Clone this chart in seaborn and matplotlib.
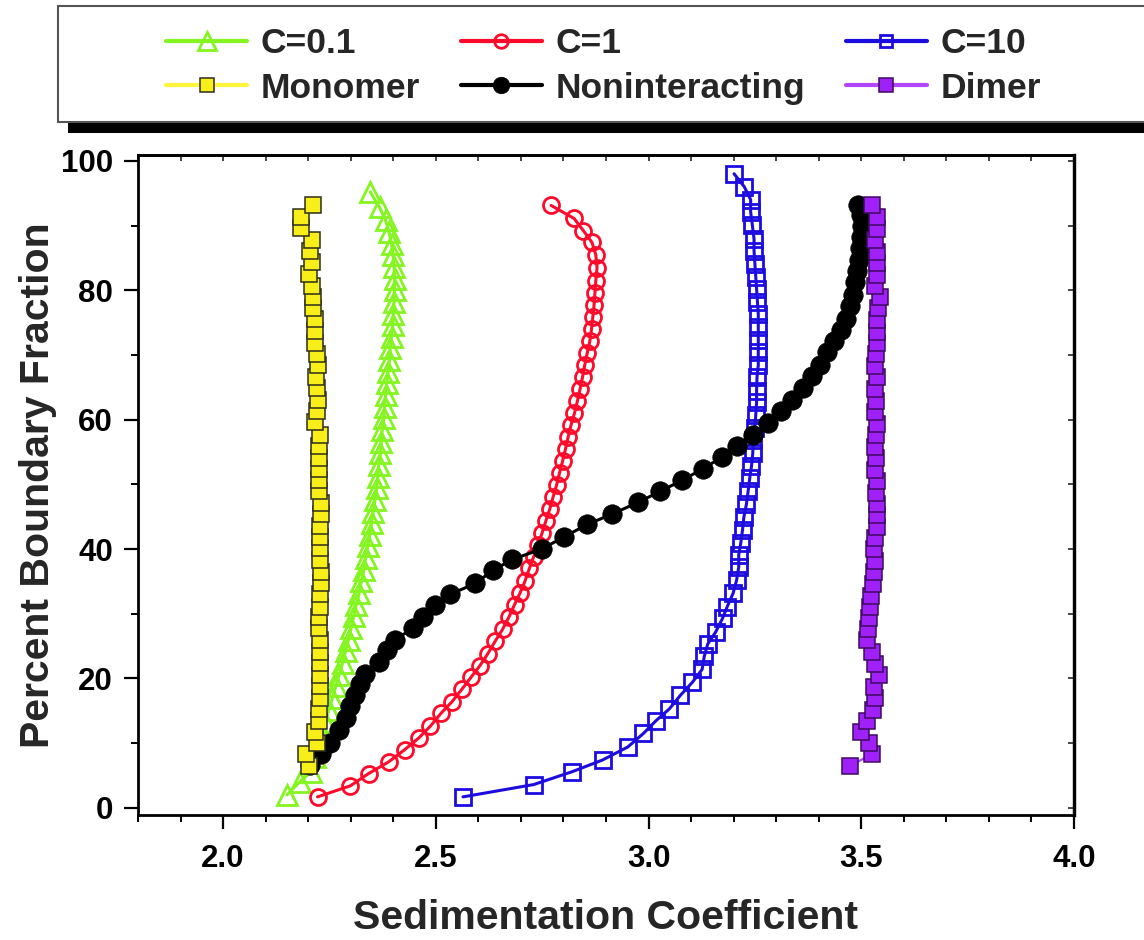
import numpy as np
import pandas as pd
import matplotlib
matplotlib.use("Agg")
import matplotlib.pyplot as plt
from matplotlib.patches import Rectangle
from matplotlib.ticker import MultipleLocator
import seaborn as sns

# Boundary fraction (%) vs. sedimentation coefficient for each model
c01_s = [2.150, 2.180, 2.207, 2.215, 2.224, 2.232, 2.240, 2.249, 2.257, 2.265,
         2.273, 2.281, 2.288, 2.295, 2.301, 2.307, 2.313, 2.320, 2.325, 2.331,
         2.335, 2.340, 2.345, 2.349, 2.353, 2.357, 2.361, 2.364, 2.366, 2.370,
         2.372, 2.374, 2.378, 2.380, 2.382, 2.385, 2.388, 2.391, 2.393, 2.396,
         2.399, 2.400, 2.402, 2.403, 2.403, 2.402, 2.400, 2.396, 2.390, 2.382,
         2.368, 2.346]
c01_f = [2.0, 4.0, 5.6, 7.9, 9.7, 11.5, 13.3, 15.2, 17.0, 18.8,
         20.6, 22.4, 24.2, 26.0, 27.8, 29.6, 31.4, 33.2, 35.0, 36.8,
         38.6, 40.4, 42.2, 44.0, 45.8, 47.6, 49.4, 51.2, 53.0, 54.8,
         56.6, 58.4, 60.2, 62.0, 63.8, 65.6, 67.4, 69.2, 71.0, 72.8,
         74.6, 76.4, 78.2, 80.0, 81.8, 83.6, 85.4, 87.2, 89.0, 90.8,
         92.8, 95.2]

c1_s = [2.222, 2.299, 2.342, 2.389, 2.427, 2.460, 2.487, 2.512, 2.538, 2.561,
        2.583, 2.604, 2.622, 2.640, 2.657, 2.672, 2.685, 2.698, 2.710, 2.720,
        2.730, 2.740, 2.750, 2.759, 2.768, 2.776, 2.784, 2.791, 2.798, 2.805,
        2.811, 2.818, 2.826, 2.833, 2.839, 2.845, 2.850, 2.856, 2.862, 2.866,
        2.869, 2.872, 2.874, 2.876, 2.879, 2.876, 2.867, 2.847, 2.825, 2.771]
c1_f = [1.7, 3.4, 5.3, 7.1, 9.0, 10.8, 12.6, 14.6, 16.4, 18.3,
        20.2, 22.0, 23.8, 25.8, 27.6, 29.5, 31.4, 33.2, 35.1, 37.0,
        38.8, 40.7, 42.5, 44.4, 46.2, 48.1, 49.9, 51.8, 53.6, 55.5,
        57.3, 59.2, 61.0, 62.9, 64.7, 66.6, 68.4, 70.3, 72.1, 74.0,
        75.8, 77.7, 79.5, 81.4, 83.5, 85.5, 87.4, 89.2, 91.1, 93.1]

c10_s = [2.564, 2.730, 2.821, 2.892, 2.951, 2.988, 3.018, 3.049, 3.075, 3.103,
         3.126, 3.131, 3.139, 3.158, 3.174, 3.185, 3.199, 3.207, 3.212, 3.212,
         3.217, 3.221, 3.224, 3.230, 3.234, 3.238, 3.242, 3.245, 3.246, 3.250,
         3.252, 3.254, 3.254, 3.255, 3.258, 3.258, 3.258, 3.258, 3.258, 3.256,
         3.254, 3.252, 3.250, 3.248, 3.248, 3.244, 3.240, 3.240, 3.225, 3.201]
c10_f = [1.7, 3.6, 5.6, 7.4, 9.4, 11.5, 13.5, 15.3, 17.4, 19.4,
         21.4, 23.4, 25.3, 27.2, 29.3, 31.1, 33.2, 35.2, 37.2, 39.1,
         41.0, 43.0, 44.9, 46.9, 48.9, 51.0, 52.8, 54.8, 56.8, 58.7,
         60.7, 62.7, 64.5, 66.6, 68.4, 70.5, 72.3, 74.3, 76.3, 78.2,
         80.2, 82.1, 84.1, 86.1, 87.9, 90.1, 92.1, 94.0, 96.0, 98.0]

nonint_s = [2.205, 2.230, 2.252, 2.272, 2.288, 2.299, 2.311, 2.323, 2.333, 2.366,
            2.385, 2.403, 2.446, 2.471, 2.499, 2.534, 2.593, 2.634, 2.680, 2.749,
            2.802, 2.856, 2.914, 2.975, 3.027, 3.078, 3.128, 3.172, 3.208, 3.246,
            3.280, 3.312, 3.338, 3.362, 3.385, 3.404, 3.420, 3.437, 3.452, 3.465,
            3.473, 3.481, 3.485, 3.490, 3.495, 3.498, 3.500, 3.502, 3.500, 3.493]
nonint_f = [6.6, 8.3, 10.1, 12.0, 13.9, 15.7, 17.4, 19.2, 20.7, 22.6,
            24.4, 25.9, 27.8, 29.5, 31.3, 33.0, 34.7, 36.7, 38.4, 40.0,
            41.9, 43.8, 45.4, 47.2, 48.9, 50.6, 52.4, 54.2, 55.9, 57.7,
            59.5, 61.3, 63.1, 64.9, 66.8, 68.5, 70.4, 72.1, 73.9, 75.6,
            77.5, 79.3, 81.2, 82.9, 84.7, 86.6, 88.3, 89.9, 91.6, 93.1]

mono_s = [2.202, 2.196, 2.221, 2.216, 2.225, 2.225, 2.227, 2.227, 2.227, 2.227,
          2.229, 2.227, 2.225, 2.225, 2.227, 2.229, 2.230, 2.230, 2.229, 2.229,
          2.227, 2.229, 2.230, 2.230, 2.225, 2.225, 2.225, 2.225, 2.225, 2.227,
          2.217, 2.221, 2.223, 2.221, 2.219, 2.223, 2.221, 2.216, 2.217, 2.216,
          2.212, 2.211, 2.209, 2.202, 2.208, 2.204, 2.208, 2.183, 2.183, 2.211]
mono_f = [6.5, 8.3, 10.0, 11.8, 13.5, 15.3, 17.0, 18.8, 20.6, 22.4,
          24.1, 26.0, 27.8, 29.5, 31.1, 33.0, 34.7, 36.5, 38.3, 40.1,
          41.9, 43.6, 45.4, 47.1, 48.9, 50.6, 52.4, 54.1, 56.0, 57.7,
          59.6, 61.4, 63.1, 64.9, 66.6, 68.4, 70.1, 71.9, 73.7, 75.5,
          77.2, 79.0, 80.7, 82.5, 84.4, 86.0, 87.8, 89.6, 91.3, 93.1]

dimer_s = [3.473, 3.526, 3.518, 3.500, 3.514, 3.528, 3.532, 3.529, 3.541, 3.533,
           3.526, 3.514, 3.516, 3.518, 3.521, 3.524, 3.528, 3.530, 3.533, 3.530,
           3.533, 3.536, 3.536, 3.536, 3.534, 3.536, 3.533, 3.534, 3.533, 3.534,
           3.536, 3.532, 3.534, 3.532, 3.536, 3.533, 3.534, 3.538, 3.536, 3.537,
           3.540, 3.543, 3.533, 3.536, 3.536, 3.538, 3.532, 3.536, 3.537, 3.526]
dimer_f = [6.5, 8.3, 10.0, 11.8, 13.5, 15.2, 17.0, 18.7, 20.5, 22.3,
           24.1, 25.9, 27.6, 29.3, 31.1, 32.8, 34.6, 36.4, 38.2, 40.0,
           41.7, 43.4, 45.3, 46.9, 48.7, 50.5, 52.2, 54.0, 55.8, 57.6,
           59.4, 61.2, 62.9, 64.7, 66.6, 68.3, 70.1, 71.8, 73.6, 75.4,
           77.2, 79.0, 80.7, 82.4, 84.2, 85.9, 87.7, 89.5, 91.3, 93.1]

x_ticks = [2.0, 2.5, 3.0, 3.5, 4.0]
y_ticks = [0, 20, 40, 60, 80, 100]

sns.set_theme(style="ticks")
plt.rcParams["font.family"] = ["Liberation Sans", "DejaVu Sans"]
plt.rcParams["font.weight"] = "bold"

fig = plt.figure(figsize=(11.44, 9.40), dpi=100)
ax = fig.add_axes([0.1206, 0.1330, 0.8182, 0.7021])

GREEN = "#84F520"
RED = "#FF0A2A"
BLUE = "#1C0CE0"

series = [
    dict(s=c01_s, f=c01_f, label="C=0.1", color=GREEN, marker="^", ms=15,
         mfc="none", mec=GREEN, mew=2.0, lw=2.2),
    dict(s=c1_s, f=c1_f, label="C=1", color=RED, marker="o", ms=11.5,
         mfc="none", mec=RED, mew=2.0, lw=2.2),
    dict(s=c10_s, f=c10_f, label="C=10", color=BLUE, marker="s", ms=11,
         mfc="none", mec=BLUE, mew=2.0, lw=2.2),
    dict(s=nonint_s, f=nonint_f, label="Noninteracting", color="black", marker="o",
         ms=14, mfc="black", mec="black", mew=0.5, lw=2.2),
    dict(s=mono_s, f=mono_f, label="Monomer", color="#FFF53A", marker="s", ms=12,
         mfc="#F7EE1A", mec="#2E2E1A", mew=1.1, lw=1.6),
    dict(s=dimer_s, f=dimer_f, label="Dimer", color="#B347FF", marker="s", ms=12,
         mfc="#A020F8", mec="#3E0A60", mew=1.1, lw=1.6),
]

for d in series:
    df = pd.DataFrame({"s": d["s"], "f": d["f"]})
    sns.lineplot(data=df, x="s", y="f", sort=False, estimator=None, ax=ax,
                 label=d["label"], color=d["color"], linewidth=d["lw"],
                 marker=d["marker"], markersize=d["ms"],
                 markerfacecolor=d["mfc"], markeredgecolor=d["mec"],
                 markeredgewidth=d["mew"])

if ax.get_legend() is not None:
    ax.get_legend().remove()

ax.set_xlim(1.8, 4.0)
ax.set_ylim(-1.1, 100.9)
ax.set_xticks(x_ticks)
ax.set_xticklabels([f"{v:.1f}" for v in x_ticks])
ax.set_yticks(y_ticks)
ax.set_yticklabels([str(v) for v in y_ticks])
ax.xaxis.set_minor_locator(MultipleLocator(0.1))
ax.yaxis.set_minor_locator(MultipleLocator(10))

for sp in ax.spines.values():
    sp.set_visible(True)
    sp.set_linewidth(2.0)
    sp.set_color("black")

ax.tick_params(axis="both", which="major", direction="out", length=10, width=1.6,
               labelsize=22.5, colors="black", pad=8)
ax.tick_params(axis="x", which="major", pad=11)
ax.tick_params(axis="both", which="minor", direction="out", length=5, width=1.4,
               colors="black")
for lab in ax.get_xticklabels() + ax.get_yticklabels():
    lab.set_fontweight("bold")

# short inward ticks along the top and right frame
top = ax.secondary_xaxis("top")
top.set_xticks(np.arange(1.8, 4.01, 0.1))
top.tick_params(direction="in", length=4, width=1.2, labeltop=False)
top.spines["top"].set_linewidth(2.0)
right = ax.secondary_yaxis("right")
right.set_yticks(np.arange(0, 101, 10))
right.tick_params(direction="in", length=4, width=1.2, labelright=False)
right.spines["right"].set_linewidth(2.5)

ax.set_xlabel("Sedimentation Coefficient", fontsize=29.5, fontweight="bold")
ax.set_ylabel("Percent Boundary Fraction", fontsize=29.5, fontweight="bold")
ax.xaxis.set_label_coords(0.5, -0.128)
ax.yaxis.set_label_coords(-0.087, 0.5)

# framed legend box with a drop shadow, running off the right edge
W, H = 1144.0, 940.0
shadow = Rectangle((68 / W, 1 - 133 / H), 1.2, (133 - 16) / H,
                   transform=fig.transFigure, facecolor="black", edgecolor="none",
                   zorder=0)
box = Rectangle((58 / W, 1 - 122 / H), 1.2, (122 - 6) / H,
                transform=fig.transFigure, facecolor="white", edgecolor="#555555",
                linewidth=1.5, zorder=1)
fig.patches.extend([shadow, box])

handles, labels = ax.get_legend_handles_labels()
order = ["C=0.1", "Monomer", "C=1", "Noninteracting", "C=10", "Dimer"]
hmap = dict(zip(labels, handles))
leg = fig.legend([hmap[k] for k in order], order, ncol=3, loc="upper left",
                 bbox_to_anchor=(166 / W, 1 - 27 / H), frameon=False,
                 borderpad=0, borderaxespad=0, handlelength=2.3,
                 handletextpad=0.37, columnspacing=1.15, labelspacing=0.33,
                 markerscale=0.85, prop={"size": 25.5, "weight": "bold"})
for line in leg.get_lines():
    line.set_linewidth(3.0)
leg.set_zorder(5)

fig.savefig("out.png", dpi=100)
